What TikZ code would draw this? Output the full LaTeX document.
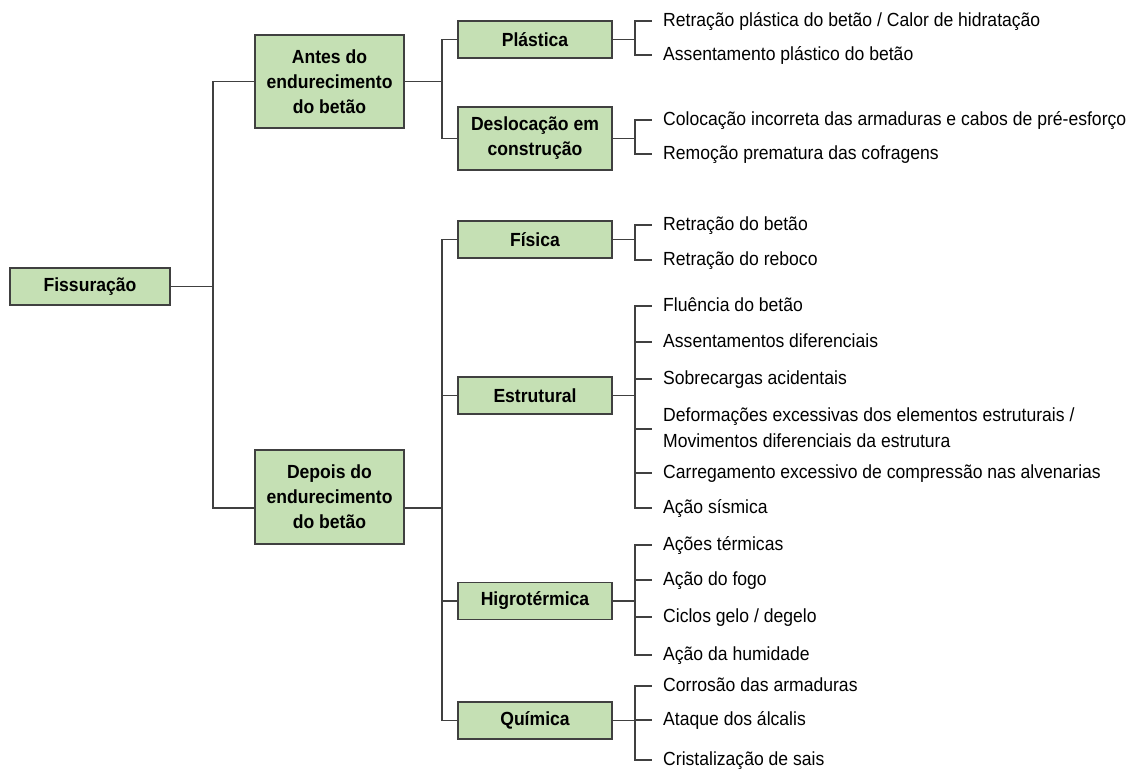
\documentclass[tikz,border=0pt]{standalone}
\usepackage{fontspec}
\setmainfont{Liberation Sans}[FakeStretch=0.925]
\usepackage{tikz}
\definecolor{boxgreen}{HTML}{C5E0B4}
\definecolor{linegray}{HTML}{404040}
\newcommand{\boxfont}{\fontsize{19}{25}\selectfont\bfseries}
\newcommand{\leaffont}{\fontsize{19}{26}\selectfont}

\begin{document}
\begin{tikzpicture}[x=1pt, y=-1pt,
  cbox/.style={draw=linegray, fill=boxgreen, line width=1.2pt, font=\boxfont, align=center, inner sep=0pt, minimum width=154pt, minimum height=37pt},
  leaf/.style={anchor=west, font=\leaffont, align=left, inner xsep=11pt, inner ysep=0pt, text height=14pt, text depth=4pt},
  conn/.style={draw=linegray, line width=1.1pt}]
\useasboundingbox (0,0) rectangle (1131,771);

% root and first split
\node[cbox, minimum width=160pt] (fiss) at (90,286.5) {Fissuração};
\node[cbox, minimum width=149pt, minimum height=93pt] (antes) at (329.5,81.5) {Antes do\\endurecimento\\do betão};
\node[cbox, minimum width=149pt, minimum height=94pt] (depois) at (329.5,497) {Depois do\\endurecimento\\do betão};

% causes
\node[cbox] (plast) at (535,39.5) {Plástica};
\node[cbox, minimum height=63pt] (desloc) at (535,138.5) {Deslocação em\\construção};
\node[cbox] (fisica) at (535,239.5) {Física};
\node[cbox] (estrut) at (535,395.5) {Estrutural};
\node[cbox] (higro) at (535,601) {Higrotérmica};
\node[cbox] (quim) at (535,720.5) {Química};

% junctions
\coordinate (j1) at (213,286.5);
\coordinate (ja) at (442,81.5);
\coordinate (jb) at (442,508);
\coordinate (jplast) at (635,39.5);
\coordinate (jdesloc) at (635,138.5);
\coordinate (jfisica) at (635,239.5);
\coordinate (jestrut) at (635,395.5);
\coordinate (jhigro) at (635,601);
\coordinate (jquim) at (635,720.5);

% Plastica
\node[leaf] (pl1) at (652,21) {Retração plástica do betão / Calor de hidratação};
\node[leaf] (pl2) at (652,55) {Assentamento plástico do betão};
% Deslocacao
\node[leaf] (de1) at (652,120) {Colocação incorreta das armaduras e cabos de pré-esforço};
\node[leaf] (de2) at (652,154) {Remoção prematura das cofragens};
% Fisica
\node[leaf] (fi1) at (652,225) {Retração do betão};
\node[leaf] (fi2) at (652,260) {Retração do reboco};
% Estrutural
\node[leaf] (es1) at (652,306) {Fluência do betão};
\node[leaf] (es2) at (652,342) {Assentamentos diferenciais};
\node[leaf] (es3) at (652,379) {Sobrecargas acidentais};
\node[leaf, text height=40pt] (es4) at (652,429) {Deformações excessivas dos elementos estruturais /\\Movimentos diferenciais da estrutura};
\node[leaf] (es5) at (652,473) {Carregamento excessivo de compressão nas alvenarias};
\node[leaf] (es6) at (652,508) {Ação sísmica};
% Higrotermica
\node[leaf] (hi1) at (652,545) {Ações térmicas};
\node[leaf] (hi2) at (652,580) {Ação do fogo};
\node[leaf] (hi3) at (652,617) {Ciclos gelo / degelo};
\node[leaf] (hi4) at (652,655) {Ação da humidade};
% Quimica
\node[leaf] (qu1) at (652,686) {Corrosão das armaduras};
\node[leaf] (qu2) at (652,720) {Ataque dos álcalis};
\node[leaf] (qu3) at (652,760) {Cristalização de sais};

% connectors
\draw[conn] (fiss) -- (j1);
\draw[conn] (antes.west) -| (j1);
\draw[conn] (j1) |- (depois.west |- jb);
\draw[conn] (antes) -- (ja);
\draw[conn] (plast.west) -| (ja);
\draw[conn] (desloc.west) -| (ja);
\draw[conn] (depois.east |- jb) -- (jb);
\draw[conn] (fisica.west) -| (jb);
\draw[conn] (estrut.west) -| (jb);
\draw[conn] (higro.west) -| (jb);
\draw[conn] (quim.west) -| (jb);

\draw[conn] (plast) -- (jplast);
\draw[conn] (jplast) |- (pl1.west);
\draw[conn] (jplast) |- (pl2.west);
\draw[conn] (desloc) -- (jdesloc);
\draw[conn] (jdesloc) |- (de1.west);
\draw[conn] (jdesloc) |- (de2.west);
\draw[conn] (fisica) -- (jfisica);
\draw[conn] (jfisica) |- (fi1.west);
\draw[conn] (jfisica) |- (fi2.west);
\draw[conn] (estrut) -- (jestrut);
\draw[conn] (jestrut) |- (es1.west);
\draw[conn] (jestrut) |- (es2.west);
\draw[conn] (jestrut) |- (es3.west);
\draw[conn] (jestrut) |- (es4.west);
\draw[conn] (jestrut) |- (es5.west);
\draw[conn] (jestrut) |- (es6.west);
\draw[conn] (higro) -- (jhigro);
\draw[conn] (jhigro) |- (hi1.west);
\draw[conn] (jhigro) |- (hi2.west);
\draw[conn] (jhigro) |- (hi3.west);
\draw[conn] (jhigro) |- (hi4.west);
\draw[conn] (quim) -- (jquim);
\draw[conn] (jquim) |- (qu1.west);
\draw[conn] (jquim) |- (qu2.west);
\draw[conn] (jquim) |- (qu3.west);
\end{tikzpicture}
\end{document}
